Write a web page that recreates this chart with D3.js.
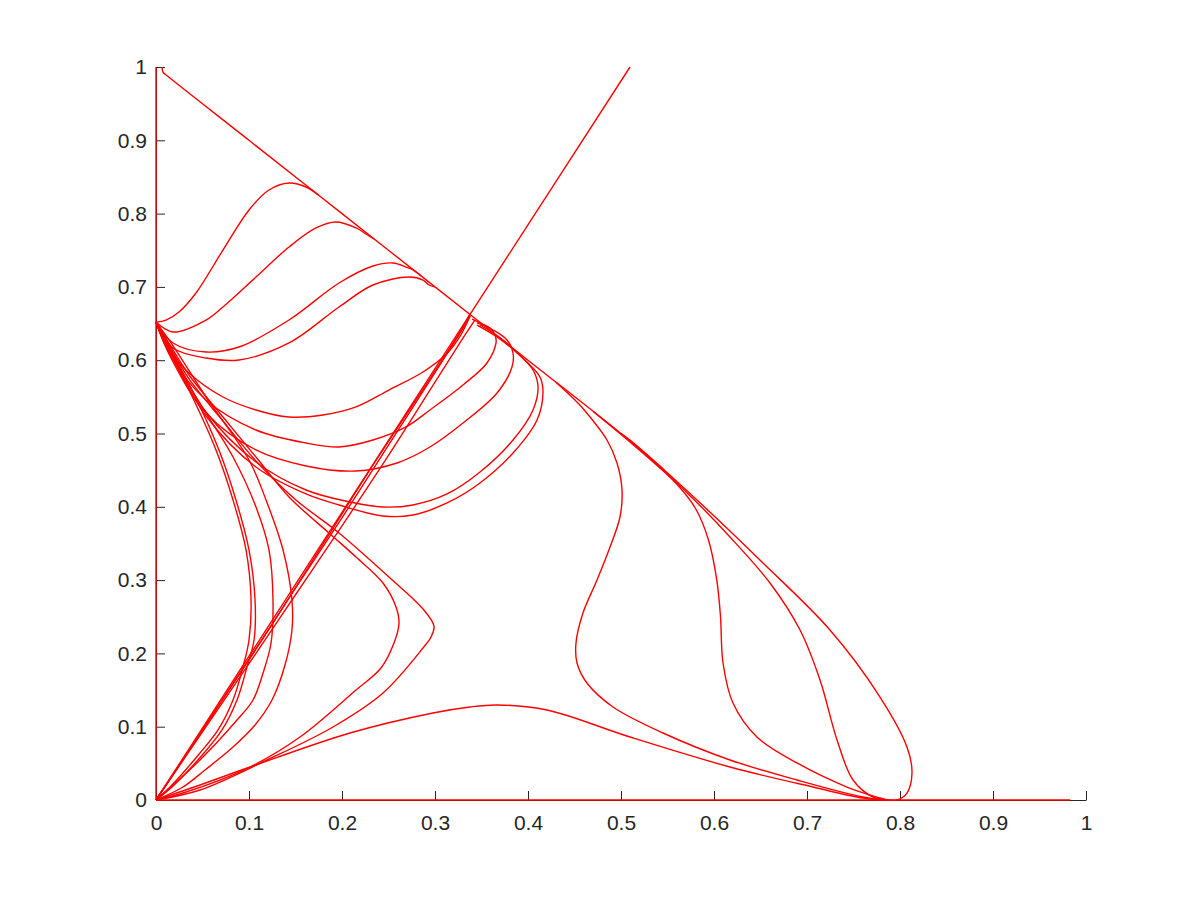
<!DOCTYPE html>
<html lang="en">
<head>
<meta charset="UTF-8">
<title>Trajectories</title>
<style>
  body { margin: 0; background: #fff; }
  .tick text { font-family: "Liberation Sans", Arial, sans-serif; font-size: 21px; fill: #262626; }
  .tick line, .domain { stroke: #262626; }
  .traj { fill: none; stroke: #ff0000; stroke-width: 1.4; }
</style>
</head>
<body>
<div id="chart"></div>
<script src="https://d3js.org/d3.v7.min.js"></script>
<script>
// ticks
const tickValues = [0, 0.1, 0.2, 0.3, 0.4, 0.5, 0.6, 0.7, 0.8, 0.9, 1];
const tickLabels = ["0", "0.1", "0.2", "0.3", "0.4", "0.5", "0.6", "0.7", "0.8", "0.9", "1"];

// trajectories, [x, y] pairs
const edgeLeft = [[0, 0], [0, 1]];
const edgeBottom = [[0, 0], [0.983, 0]];
const diagonal = [[0.0065, 1], [0.0075, 0.993], [0.011, 0.989], [0.1, 0.9], [0.2, 0.8], [0.3, 0.7], [0.4, 0.6], [0.5, 0.5], [0.545, 0.452]];
const mainLine = [[0, 0], [0.5097, 1]];

const curveA = [[0, 0.652], [0.0108, 0.6548], [0.0247, 0.6658], [0.043, 0.6917], [0.072, 0.7503], [0.1, 0.8049], [0.1215, 0.8322], [0.143, 0.8417], [0.1613, 0.8363], [0.175, 0.825]];
const curveB = [[0, 0.652], [0.0183, 0.6385], [0.0538, 0.6548], [0.072, 0.6726], [0.1075, 0.7135], [0.143, 0.7544], [0.172, 0.7804], [0.1935, 0.7885], [0.2151, 0.7804], [0.2258, 0.7722], [0.235, 0.765]];
const curveC = [[0, 0.652], [0.0183, 0.6235], [0.0538, 0.6112], [0.0892, 0.618], [0.143, 0.6548], [0.1968, 0.7053], [0.2333, 0.7285], [0.2548, 0.7326], [0.2688, 0.7271], [0.2763, 0.7231], [0.285, 0.715]];
const curveD = [[0, 0.652], [0.0183, 0.6166], [0.0538, 0.603], [0.0892, 0.6003], [0.143, 0.6235], [0.1968, 0.6726], [0.2333, 0.7026], [0.272, 0.7135], [0.2871, 0.7094], [0.2935, 0.7026], [0.3, 0.7]];
const curveE = [[0, 0.652], [0.0151, 0.6139], [0.0355, 0.5825], [0.072, 0.5498], [0.1075, 0.5321], [0.143, 0.5225], [0.1796, 0.5252], [0.2151, 0.5362], [0.2505, 0.5593], [0.2871, 0.5839], [0.312, 0.608], [0.328, 0.635], [0.3376, 0.6603]];

const loop1 = [[0, 0.652], [0.0151, 0.6071], [0.0538, 0.5457], [0.1075, 0.5048], [0.1613, 0.487], [0.1968, 0.4816], [0.2333, 0.4911], [0.2688, 0.5089], [0.2946, 0.5321], [0.3301, 0.5662], [0.3559, 0.5962], [0.3656, 0.6235], [0.3645, 0.6344], [0.3591, 0.6439], [0.3484, 0.6508], [0.3398, 0.6562]];
const loop2 = [[0, 0.652], [0.0172, 0.6003], [0.0538, 0.528], [0.1075, 0.4775], [0.1613, 0.4557], [0.2151, 0.4488], [0.2591, 0.4598], [0.2946, 0.4816], [0.3301, 0.5143], [0.3667, 0.5553], [0.3828, 0.5907], [0.3839, 0.6098], [0.3774, 0.6276], [0.3624, 0.6412], [0.3452, 0.6508]];
const loop3 = [[0, 0.652], [0.0183, 0.6071], [0.0538, 0.5293], [0.1075, 0.4611], [0.1613, 0.4229], [0.2086, 0.4065], [0.2441, 0.3997], [0.2763, 0.4025], [0.3129, 0.4175], [0.3484, 0.4475], [0.3839, 0.4911], [0.4054, 0.5321], [0.4108, 0.5634], [0.4054, 0.5866], [0.3882, 0.6098], [0.3667, 0.6317], [0.3452, 0.648]];
const loop4 = [[0, 0.652], [0.0183, 0.6044], [0.0538, 0.5239], [0.1075, 0.4543], [0.1613, 0.4175], [0.1968, 0.4025], [0.2441, 0.3875], [0.2763, 0.3888], [0.3129, 0.4052], [0.3484, 0.4325], [0.3839, 0.4734], [0.4097, 0.5184], [0.4161, 0.5553], [0.4129, 0.5771], [0.3989, 0.5975], [0.3731, 0.6276], [0.3484, 0.648]];

const vCurve1 = [[0, 0.652], [0.0151, 0.6207], [0.0355, 0.5798], [0.072, 0.5225], [0.1075, 0.4679], [0.143, 0.4134], [0.186, 0.3643], [0.2151, 0.3315], [0.2441, 0.296], [0.2581, 0.2633], [0.2613, 0.2415], [0.2559, 0.2142], [0.2419, 0.1801], [0.2151, 0.1501], [0.1548, 0.0859], [0.1011, 0.045], [0.029, 0.0095], [0, 0]];
const vCurve2 = [[0, 0.652], [0.0151, 0.618], [0.0355, 0.5744], [0.072, 0.5171], [0.1075, 0.4625], [0.1505, 0.4093], [0.1968, 0.3643], [0.2505, 0.3042], [0.2871, 0.2606], [0.2989, 0.2374], [0.2957, 0.2224], [0.2871, 0.2074], [0.2441, 0.146], [0.1903, 0.0996], [0.1194, 0.0546], [0.0473, 0.0136], [0, 0]];

const sCurve1 = [[0, 0.652], [0.0075, 0.6276], [0.0355, 0.5593], [0.0645, 0.4775], [0.0828, 0.4093], [0.0968, 0.3411], [0.1022, 0.2729], [0.1, 0.2183], [0.0935, 0.1814], [0.0828, 0.1364], [0.0667, 0.0955], [0.0473, 0.0641], [0.0151, 0.0177], [0, 0]];
const sCurve2 = [[0, 0.652], [0.0097, 0.6276], [0.0387, 0.5593], [0.0677, 0.4775], [0.086, 0.4093], [0.1, 0.3411], [0.1065, 0.2729], [0.1054, 0.2183], [0.0978, 0.1814], [0.0871, 0.1364], [0.071, 0.0955], [0.0516, 0.0641], [0.0172, 0.0177], [0, 0]];
const sCurve3 = [[0, 0.652], [0.0086, 0.6276], [0.043, 0.5498], [0.0828, 0.4679], [0.1075, 0.3997], [0.1215, 0.3411], [0.1258, 0.2729], [0.1237, 0.2142], [0.1151, 0.1733], [0.1043, 0.1364], [0.0871, 0.1091], [0.0473, 0.0546], [0, 0]];
const sCurve4 = [[0, 0.652], [0.014, 0.6276], [0.0538, 0.5498], [0.1, 0.4638], [0.1183, 0.4093], [0.1366, 0.3411], [0.1462, 0.2729], [0.1462, 0.2319], [0.1387, 0.1842], [0.1247, 0.1364], [0.1065, 0.1023], [0.0828, 0.0723], [0.0527, 0.0409], [0.029, 0.0177], [0, 0]];

const bundle1 = [[0, 0], [0.05, 0.095], [0.1, 0.192], [0.15, 0.289], [0.2, 0.385], [0.25, 0.484], [0.3, 0.583], [0.325, 0.633], [0.338, 0.66]];
const bundle2 = [[0, 0], [0.05, 0.093], [0.1, 0.186], [0.15, 0.28], [0.2, 0.374], [0.25, 0.47], [0.3, 0.57], [0.33, 0.63], [0.343, 0.655]];
const bundle3 = [[0, 0], [0.06, 0.115], [0.12, 0.23], [0.18, 0.35], [0.24, 0.47], [0.3, 0.585], [0.33, 0.645], [0.337, 0.662]];

const bump = [[0, 0], [0.0473, 0.0205], [0.1011, 0.045], [0.2086, 0.0914], [0.2978, 0.1187], [0.3376, 0.1269], [0.3667, 0.1296], [0.4204, 0.1228], [0.5097, 0.0859], [0.6172, 0.045], [0.7065, 0.0177], [0.7602, 0.0027], [0.786, 0]];

const right1 = [[0.43, 0.57], [0.455, 0.54], [0.4667, 0.5225], [0.4849, 0.4911], [0.4957, 0.4598], [0.5011, 0.4229], [0.4989, 0.3861], [0.4882, 0.3452], [0.4742, 0.3001], [0.4591, 0.2551], [0.4516, 0.2142], [0.4527, 0.1869], [0.4634, 0.1596], [0.4914, 0.1269], [0.5452, 0.0914], [0.6172, 0.0546], [0.6892, 0.0273], [0.7602, 0.0041], [0.786, 0]];
const right2 = [[0.47, 0.53], [0.51, 0.488], [0.54, 0.455], [0.562, 0.428], [0.58, 0.398], [0.594, 0.355], [0.603, 0.3], [0.607, 0.25], [0.6097, 0.1869], [0.6204, 0.1323], [0.6462, 0.0859], [0.6892, 0.0505], [0.743, 0.0177], [0.7785, 0.0027], [0.786, 0]];
const right3 = [[0.5, 0.5], [0.5452, 0.4502], [0.58, 0.408], [0.6172, 0.3588], [0.6602, 0.296], [0.6925, 0.2319], [0.714, 0.1637], [0.7323, 0.0819], [0.7495, 0.0273], [0.771, 0.0041], [0.7892, 0]];
const right4 = [[0.5, 0.5], [0.5097, 0.4911], [0.5817, 0.4093], [0.6527, 0.3233], [0.7247, 0.2319], [0.7785, 0.1405], [0.8075, 0.0723], [0.8129, 0.0368], [0.8075, 0.0095], [0.7968, 0], [0.79, 0]];

const trajectories = [
  edgeLeft, edgeBottom, diagonal, mainLine,
  curveA, curveB, curveC, curveD, curveE,
  loop1, loop2, loop3, loop4,
  vCurve1, vCurve2, sCurve1, sCurve2, sCurve3, sCurve4,
  bundle1, bundle2, bundle3, bump,
  right1, right2, right3, right4
];

const width = 1200, height = 900;
const margin = { top: 67, right: 114, bottom: 100, left: 156 };

const svg = d3.select("#chart").append("svg")
  .attr("width", width)
  .attr("height", height)
  .style("background", "#fff");

const x = d3.scaleLinear().domain([0, 1]).range([margin.left, width - margin.right]);
const y = d3.scaleLinear().domain([0, 1]).range([height - margin.bottom, margin.top]);

// axes (ticks point inward, like matlab)
svg.append("g")
  .attr("transform", `translate(0,${y(0)})`)
  .call(d3.axisBottom(x).tickValues(tickValues).tickFormat((d, i) => tickLabels[i])
    .tickSize(-9).tickSizeOuter(0).tickPadding(15));

svg.append("g")
  .attr("transform", `translate(${x(0)},0)`)
  .call(d3.axisLeft(y).tickValues(tickValues).tickFormat((d, i) => tickLabels[i])
    .tickSize(-9).tickSizeOuter(0).tickPadding(9));

const line = d3.line()
  .x(d => x(d[0]))
  .y(d => y(d[1]))
  .curve(d3.curveCatmullRom.alpha(0.5));

svg.selectAll(".traj")
  .data(trajectories)
  .enter().append("path")
  .attr("class", "traj")
  .attr("d", line);
</script>
</body>
</html>
